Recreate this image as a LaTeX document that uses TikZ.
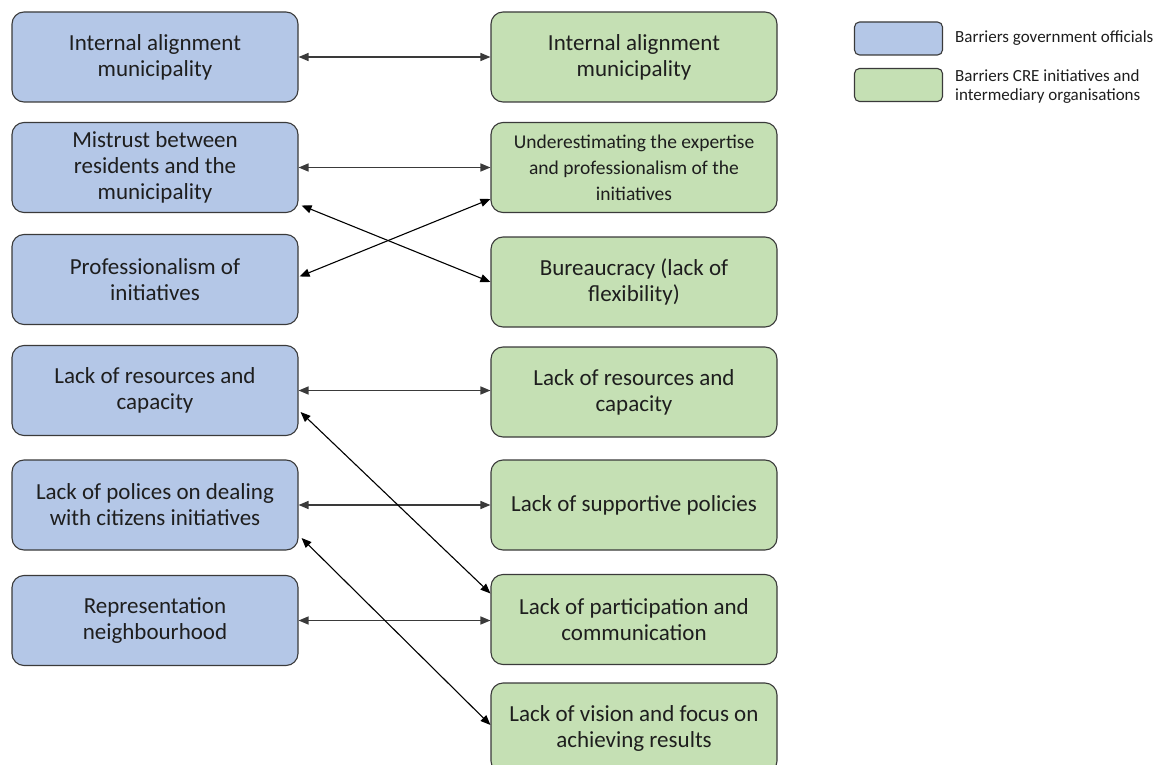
\documentclass[tikz,border=0pt]{standalone}
\usepackage{fontspec}
\setmainfont{Carlito}
\usetikzlibrary{arrows.meta}
\definecolor{govfill}{HTML}{B4C7E7}
\definecolor{crefill}{HTML}{C5E0B4}
\definecolor{edge}{HTML}{3A3A3A}
\definecolor{txt}{HTML}{1E1E1E}
\tikzset{
  barrier/.style={draw=edge, line width=1.1pt, rounded corners=12pt,
    minimum width=286pt, minimum height=90pt, align=center,
    text=txt, font=\fontsize{23}{26}\selectfont, inner sep=0pt},
  gov/.style={barrier, fill=govfill},
  cre/.style={barrier, fill=crefill},
  key/.style={draw=edge, line width=1.1pt, rounded corners=5pt,
    minimum width=88pt, minimum height=33pt, inner sep=0pt},
  keytext/.style={anchor=west, align=left, text=txt,
    font=\fontsize{17}{19}\selectfont, inner sep=0pt},
  link/.style={line width=1.4pt, draw=edge,
    {Triangle[length=10pt,width=8pt]}-{Triangle[length=10pt,width=8pt]}},
  cross/.style={link, draw=black, line width=1.1pt}
}
\newcommand{\smalltext}{\fontsize{19.5}{22}\selectfont}
\begin{document}
\begin{tikzpicture}[x=1pt, y=-1pt]
  \useasboundingbox (0,0) rectangle (1162,765);
  \clip (0,0) rectangle (1162,765);

  % government officials (left column)
  \node[gov] (l1) at (155,57)    {Internal alignment\\municipality};
  \node[gov] (l2) at (155,167.5) {Mistrust between\\residents and the\\municipality};
  \node[gov] (l3) at (155,279.5) {Professionalism of\\initiatives};
  \node[gov] (l4) at (155,390.5) {Lack of resources and\\capacity};
  \node[gov] (l5) at (155,505)   {Lack of polices on dealing\\with citizens initiatives};
  \node[gov] (l6) at (155,620.5) {Representation\\neighbourhood};

  % CRE initiatives and intermediary organisations (right column)
  \node[cre] (r1) at (634,57)    {Internal alignment\\municipality};
  \node[cre] (r2) at (634,167.5) {\smalltext Underestimating the expertise\\\smalltext and professionalism of the\\\smalltext initiatives};
  \node[cre] (r3) at (634,282)   {Bureaucracy (lack of\\flexibility)};
  \node[cre] (r4) at (634,392)   {Lack of resources and\\capacity};
  \node[cre] (r5) at (634,505)   {Lack of supportive policies};
  \node[cre] (r6) at (634,619.5) {Lack of participation and\\communication};
  \node[cre] (r7) at (634,728)   {Lack of vision and focus on\\achieving results};

  % legend
  \node[key, fill=govfill] (k1) at (898.5,38.5) {};
  \node[key, fill=crefill] (k2) at (898.5,85)   {};
  \node[keytext] (t1) at (955,38.5) {Barriers government officials};
  \node[keytext] (t2) at (955,87)   {Barriers CRE initiatives and\\intermediary organisations};

  % straight links
  \draw[link] (l1.east) -- (l1.east -| r1.west);
  \draw[link] (l2.east) -- (r2.west);
  \draw[link] (l4.east) -- (l4.east -| r4.west);
  \draw[link] (l5.east) -- (r5.west);
  \draw[link] (l6.east) -- (l6.east -| r6.west);

  % crossing links
  \draw[cross] ([xshift=3pt,yshift=-38pt]l2.east) -- (r3.west);
  \draw[cross] ([xshift=1pt,yshift=3pt]l3.east) -- ([yshift=-31.5pt]r2.west);
  \draw[cross] ([xshift=2pt,yshift=-21.5pt]l4.east) -- ([yshift=26pt]r6.west);
  \draw[cross] ([xshift=3pt,yshift=-33pt]l5.east) -- ([yshift=3pt]r7.west);
\end{tikzpicture}
\end{document}
